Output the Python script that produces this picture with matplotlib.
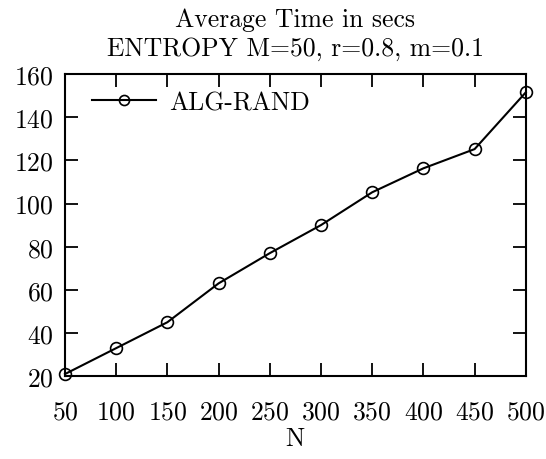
import matplotlib
matplotlib.use("Agg")
import matplotlib.pyplot as plt

# data
n_values = [50, 100, 150, 200, 250, 300, 350, 400, 450, 500]
avg_time = [21, 33, 45, 63, 77, 90, 105.2, 116.3, 125.2, 151.5]
x_ticks = [50, 100, 150, 200, 250, 300, 350, 400, 450, 500]
y_ticks = [20, 40, 60, 80, 100, 120, 140, 160]

FS = 18.5
plt.rcParams["font.family"] = ["cmr10", "DejaVu Serif"]
plt.rcParams["axes.formatter.use_mathtext"] = True
plt.rcParams["font.size"] = FS

fig = plt.figure(figsize=(5.46, 4.6), dpi=100)
ax = fig.add_axes([0.119, 0.180, 0.844, 0.657])

ax.plot(n_values, avg_time, color="black", lw=1.5, marker="o",
        markersize=8.5, markerfacecolor="none", markeredgewidth=1.2,
        label="ALG-RAND", clip_on=False, zorder=3)

ax.set_xlim(50, 500)
ax.set_ylim(20, 160)
ax.set_xticks(x_ticks)
ax.set_yticks(y_ticks)
ax.tick_params(direction="in", length=9.5, width=1.3, top=True, right=True,
               labelsize=FS)
ax.tick_params(axis="x", pad=17)
ax.tick_params(axis="y", pad=8)
for s in ax.spines.values():
    s.set_linewidth(1.5)

ax.set_xlabel("N", fontsize=FS, labelpad=2)
ax.set_title("Average Time in secs\nENTROPY M=50, r=0.8, m=0.1",
             fontsize=FS, pad=14, linespacing=1.25)

leg = ax.legend(loc="upper left", frameon=False, fontsize=FS,
                handlelength=2.5, handletextpad=0.5, markerscale=0.85,
                borderaxespad=0.3, bbox_to_anchor=(0.02, 1.005))

fig.savefig("out.png", dpi=100)
